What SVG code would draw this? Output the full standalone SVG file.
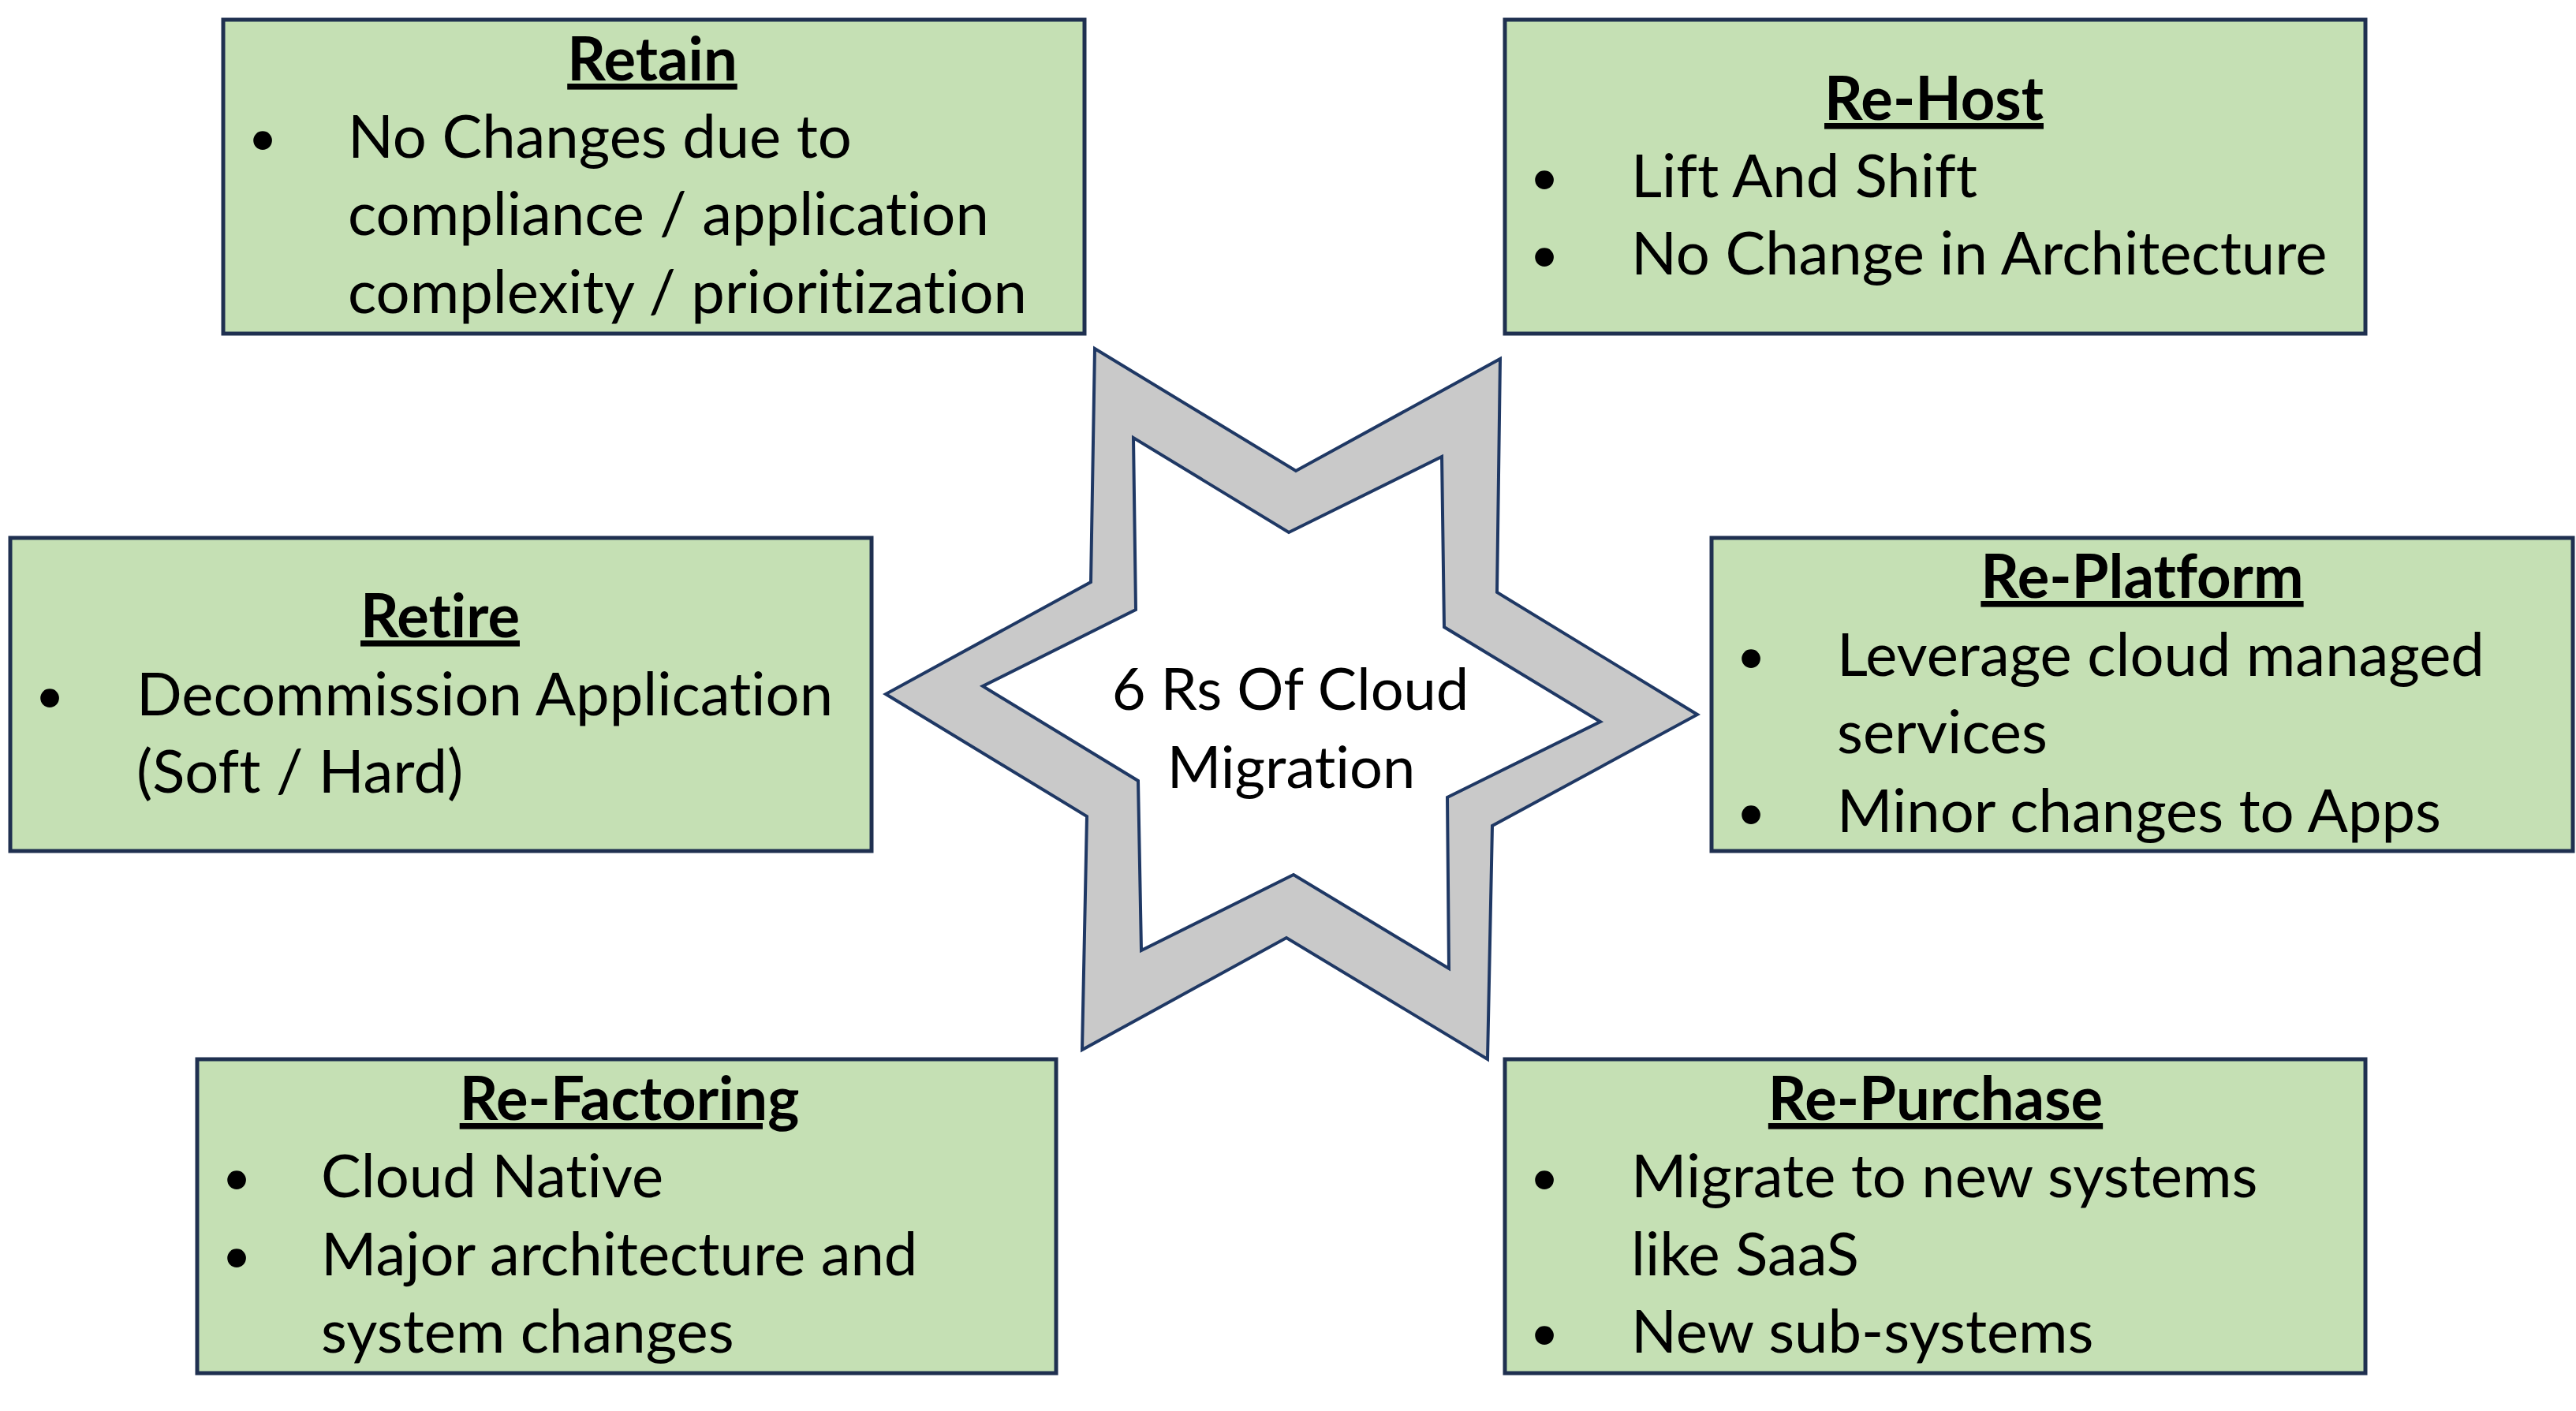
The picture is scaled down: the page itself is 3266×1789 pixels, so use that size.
<svg xmlns="http://www.w3.org/2000/svg" width="3266" height="1789" viewBox="0 0 3266 1789">
<style>
.box{fill:#C5E0B4;stroke:#1F3050;stroke-width:5}
.t{font-family:Lato,"Open Sans","Liberation Sans",sans-serif;font-size:76px;fill:#000;font-variant-ligatures:none}
.h{font-weight:bold;text-anchor:middle;text-decoration:underline}
.b{font-size:64px;text-anchor:middle}
.c{font-size:74px;text-anchor:middle}
.star{fill:#C9C9C9;stroke:#1F3864;stroke-width:4;fill-rule:evenodd;stroke-linejoin:miter}
</style>
<rect width="3266" height="1789" fill="#fff"/>
<g id="star">
<path class="star" d="M1388,442 L1643,597 L1902,455 L1898,751 L2152,906 L1892,1047 L1886,1343 L1631,1189 L1372,1331 L1378,1035 L1123,880 L1383,738 Z M1437,555 L1440,773 L1246,870 L1443,990 L1447,1205 L1640,1109 L1837,1228 L1835,1011 L2029,915 L1831,795 L1828,579 L1634,675 Z"/>
<text class="t c" x="1636" y="900">6 Rs Of Cloud</text>
<text class="t c" x="1637" y="999">Migration</text>
</g>
<g id="retain">
<rect class="box" x="283" y="25" width="1092" height="398"/>
<text class="t h" x="827" y="102">Retain</text>
<text class="t b" x="333" y="197">•</text>
<text class="t" x="441" y="200">No Changes due to</text>
<text class="t" x="441" y="298">compliance / application</text>
<text class="t" x="441" y="397">complexity / prioritization</text>
</g>
<g id="rehost">
<rect class="box" x="1908" y="25" width="1091" height="398"/>
<text class="t h" x="2452" y="152">Re-Host</text>
<text class="t b" x="1958" y="247">•</text>
<text class="t" x="2068" y="250">Lift And Shift</text>
<text class="t b" x="1958" y="345">•</text>
<text class="t" x="2068" y="348">No Change in Architecture</text>
</g>
<g id="retire">
<rect class="box" x="13" y="682" width="1092" height="397"/>
<text class="t h" x="558" y="808">Retire</text>
<text class="t b" x="63" y="904">•</text>
<text class="t" x="173" y="907">Decommission Application</text>
<text class="t" x="173" y="1005">(Soft / Hard)</text>
</g>
<g id="replatform">
<rect class="box" x="2170" y="682" width="1092" height="397"/>
<text class="t h" x="2716" y="758">Re-Platform</text>
<text class="t b" x="2220" y="854">•</text>
<text class="t" x="2329" y="857">Leverage cloud managed</text>
<text class="t" x="2329" y="955">services</text>
<text class="t b" x="2220" y="1052">•</text>
<text class="t" x="2329" y="1055">Minor changes to Apps</text>
</g>
<g id="refactoring">
<rect class="box" x="250" y="1343" width="1089" height="398"/>
<text class="t h" x="798" y="1420">Re-Factoring</text>
<text class="t b" x="300" y="1515">•</text>
<text class="t" x="407" y="1518">Cloud Native</text>
<text class="t b" x="300" y="1614">•</text>
<text class="t" x="407" y="1617">Major architecture and</text>
<text class="t" x="407" y="1715">system changes</text>
</g>
<g id="repurchase">
<rect class="box" x="1908" y="1343" width="1091" height="398"/>
<text class="t h" x="2454" y="1420">Re-Purchase</text>
<text class="t b" x="1958" y="1515">•</text>
<text class="t" x="2068" y="1518">Migrate to new systems</text>
<text class="t" x="2068" y="1617">like SaaS</text>
<text class="t b" x="1958" y="1712">•</text>
<text class="t" x="2068" y="1715">New sub-systems</text>
</g>
<g id="connectors"></g>
</svg>
